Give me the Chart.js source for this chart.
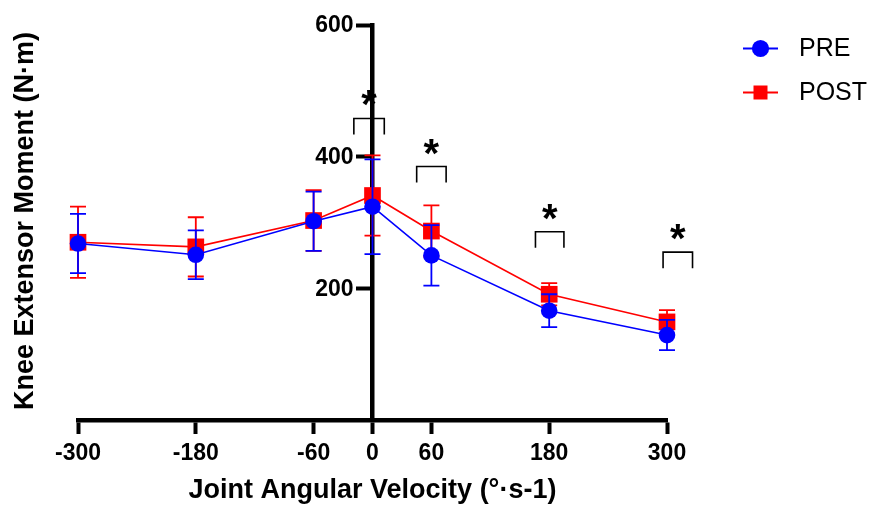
<!DOCTYPE html>
<html>
<head>
<meta charset="utf-8">
<title>Knee Extensor Moment</title>
<script src="https://cdn.jsdelivr.net/npm/chart.js@4.4.1/dist/chart.umd.min.js"></script>
<style>
  html, body { margin: 0; padding: 0; background: #fff; }
  #wrap { width: 872px; height: 510px; }
</style>
</head>
<body>
<div id="wrap"><canvas id="kneeChart" width="872" height="510"></canvas></div>
<script>
// values (N·m), mean and SD per velocity
const velocities = [-300, -180, -60, 0, 60, 180, 300];
const preMean = [268, 251, 302, 324, 250, 166, 129];
const preSD = [45, 37, 45, 72, 46, 25, 23];
const postMean = [270, 263, 303, 341, 287, 191, 149];
const postSD = [54, 45, 46, 61, 39, 17, 18];

const xTicks = [-300, -180, -60, 0, 60, 180, 300];
const yTicks = [200, 400, 600];

// significance brackets (x from / to, level in N·m)
const sigFrom = [-19, 45, 166, 296];
const sigTo = [12, 75, 195, 326];
const sigLevel = [458, 385, 286, 255];

const FONT = '"Liberation Sans", Arial, Helvetica, sans-serif';
Chart.defaults.font.family = FONT;
Chart.defaults.color = '#000';

const errorBars = {
  id: 'errorBars',
  afterDatasetDraw(chart, args) {
    const ds = chart.data.datasets[args.index];
    if (!ds.errors) return;
    const ctx = chart.ctx;
    const y = chart.scales.y;
    ctx.save();
    ctx.strokeStyle = ds.borderColor;
    ctx.lineWidth = 1.8;
    args.meta.data.forEach((pt, i) => {
      const top = y.getPixelForValue(ds.data[i].y + ds.errors[i]);
      const bot = y.getPixelForValue(ds.data[i].y - ds.errors[i]);
      ctx.beginPath();
      ctx.moveTo(pt.x, top);
      ctx.lineTo(pt.x, bot);
      ctx.moveTo(pt.x - 8, top);
      ctx.lineTo(pt.x + 8, top);
      ctx.moveTo(pt.x - 8, bot);
      ctx.lineTo(pt.x + 8, bot);
      ctx.stroke();
    });
    ctx.restore();
  }
};

const sigMarks = {
  id: 'sigMarks',
  afterDatasetsDraw(chart) {
    const ctx = chart.ctx;
    const xs = chart.scales.x, ys = chart.scales.y;
    ctx.save();
    ctx.strokeStyle = '#000';
    ctx.lineWidth = 1.6;
    ctx.fillStyle = '#000';
    ctx.font = 'bold 40px ' + FONT;
    ctx.textAlign = 'center';
    ctx.textBaseline = 'alphabetic';
    for (let i = 0; i < sigFrom.length; i++) {
      const x1 = xs.getPixelForValue(sigFrom[i]);
      const x2 = xs.getPixelForValue(sigTo[i]);
      const yy = ys.getPixelForValue(sigLevel[i]);
      ctx.beginPath();
      ctx.moveTo(x1, yy + 16);
      ctx.lineTo(x1, yy);
      ctx.lineTo(x2, yy);
      ctx.lineTo(x2, yy + 16);
      ctx.stroke();
      ctx.fillText('*', (x1 + x2) / 2, yy);
    }
    ctx.restore();
  }
};

const sideLabels = {
  id: 'sideLabels',
  afterDraw(chart) {
    const ctx = chart.ctx;
    const xs = chart.scales.x, ys = chart.scales.y;

    // y tick labels, left of the centred axis
    ctx.save();
    ctx.font = 'bold 23px ' + FONT;
    ctx.fillStyle = '#000';
    ctx.textAlign = 'right';
    ctx.textBaseline = 'middle';
    const ax = xs.getPixelForValue(0);
    yTicks.forEach(v => ctx.fillText(String(v), ax - 19, ys.getPixelForValue(v) + 1));
    ctx.restore();

    // y axis title at the far left
    ctx.save();
    ctx.translate(25.5, 221);
    ctx.rotate(-Math.PI / 2);
    ctx.font = 'bold 27px ' + FONT;
    ctx.fillStyle = '#000';
    ctx.textAlign = 'center';
    ctx.textBaseline = 'middle';
    ctx.fillText('Knee Extensor Moment (N·m)', 0, 0);
    ctx.restore();

    // legend
    const items = [
      { ds: chart.data.datasets[0], y: 48.5 },
      { ds: chart.data.datasets[1], y: 92.5 }
    ];
    ctx.save();
    ctx.font = '25px ' + FONT;
    ctx.textAlign = 'left';
    ctx.textBaseline = 'middle';
    items.forEach(it => {
      ctx.strokeStyle = it.ds.borderColor;
      ctx.fillStyle = it.ds.borderColor;
      ctx.lineWidth = 1.8;
      ctx.beginPath();
      ctx.moveTo(743, it.y);
      ctx.lineTo(778, it.y);
      ctx.stroke();
      if (it.ds.pointStyle === 'circle') {
        ctx.beginPath();
        ctx.arc(760.5, it.y, 8.6, 0, Math.PI * 2);
        ctx.fill();
      } else {
        ctx.fillRect(760.5 - 7, it.y - 7, 14, 14);
      }
      ctx.fillStyle = '#000';
      ctx.fillText(it.ds.label, 799, it.y + 1);
    });
    ctx.restore();
  }
};

const toPoints = (means) => velocities.map((v, i) => ({ x: v, y: means[i] }));

new Chart(document.getElementById('kneeChart'), {
  type: 'line',
  data: {
    datasets: [
      {
        label: 'PRE',
        data: toPoints(preMean),
        errors: preSD,
        borderColor: '#0000ff',
        backgroundColor: '#0000ff',
        borderWidth: 1.6,
        pointStyle: 'circle',
        pointRadius: 8.3,
        pointBorderWidth: 0,
        tension: 0,
        clip: false
      },
      {
        label: 'POST',
        data: toPoints(postMean),
        errors: postSD,
        borderColor: '#ff0000',
        backgroundColor: '#ff0000',
        borderWidth: 1.6,
        pointStyle: 'rect',
        pointRadius: 11.8,
        pointBorderWidth: 0,
        tension: 0,
        clip: false
      }
    ]
  },
  options: {
    responsive: false,
    animation: false,
    events: [],
    layout: {
      padding: { left: 78, right: 205, top: 25, bottom: 3 }
    },
    plugins: {
      legend: { display: false },
      tooltip: { enabled: false }
    },
    scales: {
      x: {
        type: 'linear',
        min: -300,
        max: 300,
        afterBuildTicks: (scale) => { scale.ticks = xTicks.map(v => ({ value: v })); },
        grid: { drawOnChartArea: false, tickLength: 14, tickWidth: 4, tickColor: '#000' },
        border: { color: '#000', width: 4.5 },
        ticks: { font: { size: 23, weight: 'bold' }, color: '#000', padding: 6, maxRotation: 0 },
        title: {
          display: true,
          text: 'Joint Angular Velocity (°·s-1)',
          font: { size: 27, weight: 'bold' },
          color: '#000',
          padding: { top: 1, bottom: 0 }
        }
      },
      y: {
        type: 'linear',
        min: 0,
        max: 600,
        position: { x: 0 },
        afterBuildTicks: (scale) => { scale.ticks = yTicks.map(v => ({ value: v })); },
        grid: { drawOnChartArea: false, tickLength: 14, tickWidth: 4, tickColor: '#000' },
        border: { color: '#000', width: 4.5 },
        ticks: { display: false }
      }
    }
  },
  plugins: [errorBars, sigMarks, sideLabels]
});
</script>
</body>
</html>
